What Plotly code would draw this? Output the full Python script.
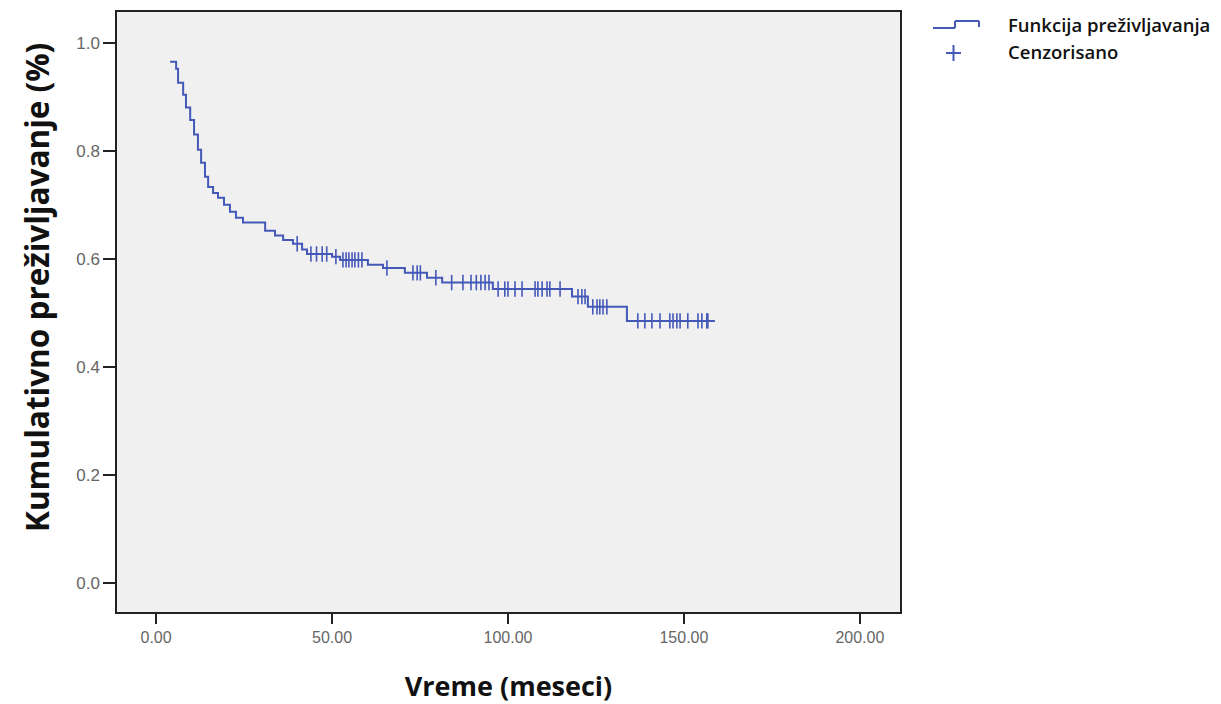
import plotly.graph_objects as go

# Kaplan-Meier step curve
step_times = [4.0, 5.7, 6.25, 7.7, 8.5, 9.7, 10.8, 11.9, 12.8, 13.9, 14.8, 16.2, 17.6, 19.3,
              21.0, 22.7, 24.7, 31.0, 33.8, 36.1, 38.9, 41.5, 42.9, 50.0, 52.3, 60.2, 64.5,
              70.7, 77.0, 81.3, 95.7, 118.2, 122.7, 133.8, 158.8]
step_surv = [0.965, 0.952, 0.926, 0.904, 0.880, 0.857, 0.830, 0.802, 0.778, 0.752, 0.733,
             0.722, 0.713, 0.700, 0.687, 0.676, 0.667, 0.652, 0.643, 0.635, 0.628, 0.617,
             0.609, 0.604, 0.598, 0.589, 0.583, 0.574, 0.565, 0.556, 0.544, 0.530, 0.511,
             0.485, 0.485]

# Censored observations
cens_times = [40.1, 44.0, 45.6, 47.2, 48.5, 51.1, 53.1, 54.0, 54.8, 55.7, 56.5, 57.5, 58.5,
              65.6, 73.0, 74.2, 75.1, 79.5, 84.0, 87.2, 89.5, 91.0, 92.3, 93.5, 94.6,
              97.2, 99.1, 100.0, 102.0, 104.0, 107.7, 108.5, 109.7, 111.1, 111.9, 114.8,
              119.9, 121.0, 121.9, 124.1, 125.3, 126.1, 127.0, 128.1,
              136.9, 138.9, 140.9, 143.2, 146.0, 146.9, 148.0, 148.9, 151.1, 154.0, 155.1,
              156.5, 156.8]
cens_surv = [0.628, 0.609, 0.609, 0.609, 0.609, 0.604, 0.598, 0.598, 0.598, 0.598, 0.598,
             0.598, 0.598, 0.583, 0.574, 0.574, 0.574, 0.565, 0.556, 0.556, 0.556, 0.556,
             0.556, 0.556, 0.556, 0.544, 0.544, 0.544, 0.544, 0.544, 0.544, 0.544, 0.544,
             0.544, 0.544, 0.544, 0.530, 0.530, 0.530, 0.511, 0.511, 0.511, 0.511, 0.511,
             0.485, 0.485, 0.485, 0.485, 0.485, 0.485, 0.485, 0.485, 0.485, 0.485, 0.485,
             0.485, 0.485]

x_ticks = [0, 50, 100, 150, 200]
y_ticks = [0.0, 0.2, 0.4, 0.6, 0.8, 1.0]
legend_labels = ["Funkcija preživljavanja", "Cenzorisano"]
y_title = "Kumulativno preživljavanje (%)"

COLOR = "#4458b8"
W, H = 1221, 704
L, R, T, B = 117, 900, 12, 612

fig = go.Figure()
fig.add_trace(go.Scatter(x=step_times, y=step_surv, mode="lines", line_shape="hv",
                         line=dict(color=COLOR, width=2), showlegend=False,
                         hoverinfo="skip"))
fig.add_trace(go.Scatter(x=cens_times, y=cens_surv, mode="markers",
                         marker=dict(symbol="line-ns", size=11,
                                     line=dict(color=COLOR, width=1.6)),
                         showlegend=False, hoverinfo="skip"))

def px(x):
    return (x - L) / (R - L)

def py(y):
    return (B - y) / (B - T)

# custom legend icons
shape_style = dict(type="line", xref="paper", yref="paper",
                   line=dict(color=COLOR, width=2))
fig.add_shape(x0=px(933), x1=px(955), y0=py(28), y1=py(28), **shape_style)
fig.add_shape(x0=px(955), x1=px(955), y0=py(28), y1=py(21), **shape_style)
fig.add_shape(x0=px(955), x1=px(979), y0=py(21), y1=py(21), **shape_style)
fig.add_shape(x0=px(979), x1=px(979), y0=py(21), y1=py(27), **shape_style)
fig.add_shape(x0=px(946), x1=px(961), y0=py(53), y1=py(53), **shape_style)
fig.add_shape(x0=px(953.5), x1=px(953.5), y0=py(45), y1=py(61), **shape_style)

for i, (lab, yy) in enumerate(zip(legend_labels, [25, 52])):
    fig.add_annotation(text=lab, xref="paper", yref="paper", x=px(1006), y=py(yy),
                       xanchor="left", yanchor="middle", showarrow=False,
                       font=dict(family="Open Sans", size=18.5, color="#111111",
                                 weight=600))

# y-axis title (positioned like the reference, slightly above plot centre)
fig.add_annotation(text=y_title, xref="paper", yref="paper", x=px(36), y=py(288),
                   xanchor="center", yanchor="middle", textangle=-90, showarrow=False,
                   font=dict(family="Open Sans", size=31.5, color="#111", weight=700))

fig.update_layout(
    width=W, height=H,
    margin=dict(l=L, r=W - R, t=T, b=H - B, autoexpand=False),
    paper_bgcolor="white", plot_bgcolor="#f0f0f0",
    showlegend=False,
)
fig.update_xaxes(range=[-11.1, 211.4], tickvals=x_ticks, tickformat=".2f",
                 ticks="outside", ticklen=10, tickwidth=1.5, tickcolor="#222",
                 showgrid=False, zeroline=False, showline=True, linecolor="#222",
                 linewidth=1.5, mirror=True, automargin=False,
                 tickfont=dict(family="Liberation Sans", size=16, color="#666"),
                 title=dict(text="Vreme (meseci)", standoff=34,
                            font=dict(family="Open Sans", size=27, color="#111", weight=700)))
fig.update_yaxes(range=[-0.054, 1.057], tickvals=y_ticks, tickformat=".1f",
                 ticks="outside", ticklen=12, tickwidth=1.5, tickcolor="#222",
                 showgrid=False, zeroline=False, showline=True, linecolor="#222",
                 linewidth=1.5, mirror=True, automargin=False,
                 tickfont=dict(family="Liberation Sans", size=17, color="#666"))

fig.write_html("out.html")
